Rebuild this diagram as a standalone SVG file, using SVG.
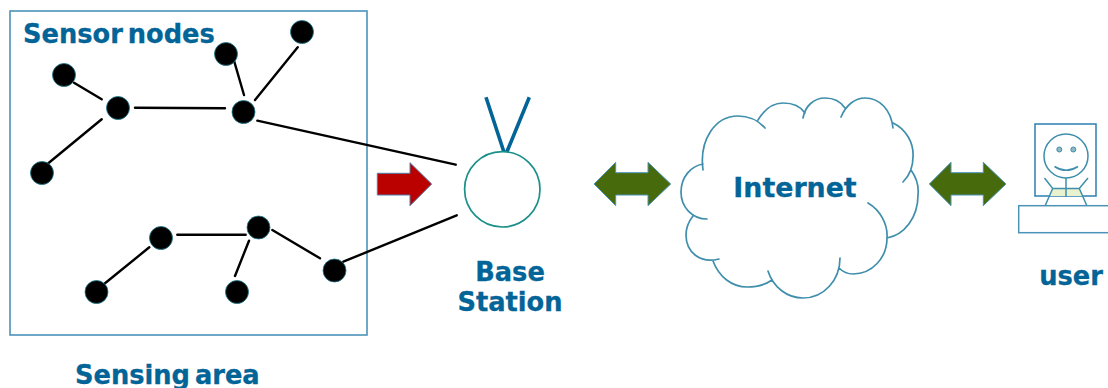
<svg xmlns="http://www.w3.org/2000/svg" width="1108" height="388" viewBox="0 0 1108 388">
<style>
.t{font-family:"DejaVu Sans",Verdana,sans-serif;font-weight:700;fill:#036497;stroke:#036497;stroke-width:.3;font-size:25.700px}
.n{fill:#000;stroke:#1d7f94;stroke-width:.8}
.l{stroke:#000;stroke-width:2.400;fill:none;stroke-linecap:round}
.b{fill:none;stroke:#4c93b9;stroke-width:1.600}
.c{fill:none;stroke:#3f8eab;stroke-width:1.700;stroke-linecap:round}
.g{fill:#466a0c;stroke:#4c93b9;stroke-width:1}
</style>
<rect width="1108" height="388" fill="#fff"/>
<g id="sensing-area"><rect class="b" x="10" y="11" width="357" height="324"/>
<text class="t" x="23" y="42.500" word-spacing="-4">Sensor nodes</text>
<text class="t" x="75" y="384" word-spacing="-4">Sensing area</text></g>
<g id="connectors">
<path class="l" d="M74 82.700L101.700 99.300M101.700 119.300L48.300 163.300M135 107.700L225 108.300M234.300 61.700L244 95M297.700 47.300L255 100M257.300 120.700L455.700 164.700M177.300 234.700L245.700 234.700M149.300 247.300L105 283.300M249 240.700L235 276M272.300 230L320 258.300M343.300 261.700L456.700 215.300"/>
</g>
<g id="node-1"><circle class="n" cx="64" cy="75" r="11.500"/></g>
<g id="node-2"><circle class="n" cx="118" cy="108" r="11.500"/></g>
<g id="node-3"><circle class="n" cx="42" cy="173" r="11.500"/></g>
<g id="node-4"><circle class="n" cx="226" cy="54" r="11.500"/></g>
<g id="node-5"><circle class="n" cx="302" cy="32" r="11.500"/></g>
<g id="node-6"><circle class="n" cx="243.500" cy="112" r="11.500"/></g>
<g id="node-7"><circle class="n" cx="161" cy="238" r="11.500"/></g>
<g id="node-8"><circle class="n" cx="258.500" cy="227.500" r="11.500"/></g>
<g id="node-9"><circle class="n" cx="96.500" cy="292" r="11.500"/></g>
<g id="node-10"><circle class="n" cx="237" cy="292" r="11.500"/></g>
<g id="node-11"><circle class="n" cx="334.500" cy="270.500" r="11.500"/></g>
<g id="red-arrow"><path d="M377.300 173.300H410V162.700L431.700 184L410 205.700V195H377.300Z" fill="#bb0000" stroke="#4c7fa8" stroke-width="1"/></g>
<g id="base-station">
<path d="M486 97.300L504 152.300M529.300 97.300L506.700 152.300" stroke="#036497" stroke-width="3.600" fill="none"/>
<circle cx="502.300" cy="189.300" r="37.700" fill="#fff" stroke="#1b8f8a" stroke-width="1.700"/>
<text class="t" x="510" y="281" text-anchor="middle">Base</text>
<text class="t" x="510" y="311" text-anchor="middle">Station</text>
</g>
<g id="arrow-internet"><path class="g" d="M594 184L615.700 162.300V172.700H648V162.300L670.700 184L648 205.700V195H615.700V205.700Z"/></g>
<g id="internet">
<path class="c" d="M703 170C699 140 715 116 738 116C750 116 758 120 765 128M758 120C764 110 773 103 783 103C793 103 801 107 805 113M803 118C805 106 814 98 825 98C834 98 841 102 845 108M841 117C846 105 855 98 865 98C880 98 891 110 893 128M893 123C906 129 914 143 913 157C913 167 909 176 903 182M911 170C916 177 919 186 918 195C918 218 904 235 887 238M868 203C880 210 888 224 887 238C887 258 872 274 853 274C848 274 843 272 839 268M840 258C840 280 824 298 803 298C787 298 773 287 768 271M772 280C765 285 756 287 747 287C732 287 719 277 713 261M719 259C700 264 686 252 686 235C686 228 689 221 693 216M707 219C692 219 681 207 681 192C681 177 691 166 703 164"/>
<text class="t" x="795" y="197" text-anchor="middle" style="font-size:26.800px">Internet</text>
</g>
<g id="arrow-user"><path class="g" d="M929.300 184L951 162.300V172.700H983.300V162.300L1006 184L983.300 205.700V195H951V205.700Z"/></g>
<g id="user">
<rect x="1035" y="124" width="61" height="72" fill="#fff" stroke="#2c7fb0" stroke-width="1.500"/>
<path d="M1052.700 188.500H1079.300L1083 196H1049Z" fill="#e9f2cf"/>
<circle cx="1066" cy="156" r="22" fill="none" stroke="#3f8eab" stroke-width="1.500"/>
<circle cx="1059.300" cy="149.500" r="2.500" fill="#8fb8c4" stroke="#3f8eab"/>
<circle cx="1073.300" cy="149.500" r="2.500" fill="#8fb8c4" stroke="#3f8eab"/>
<path d="M1054.500 166.500Q1066 174 1078 166.500M1066 178V197M1044.500 178L1052.700 188.500H1079.300L1088 178M1052.700 188.500L1045 206M1079.300 188.500L1087 206" fill="none" stroke="#3f8eab" stroke-width="1.500"/>
<rect x="1018.700" y="205.700" width="100" height="27" fill="#fff" stroke="#4c93b9" stroke-width="1.500"/>
<text class="t" x="1071" y="285" text-anchor="middle">user</text>
</g>
</svg>
